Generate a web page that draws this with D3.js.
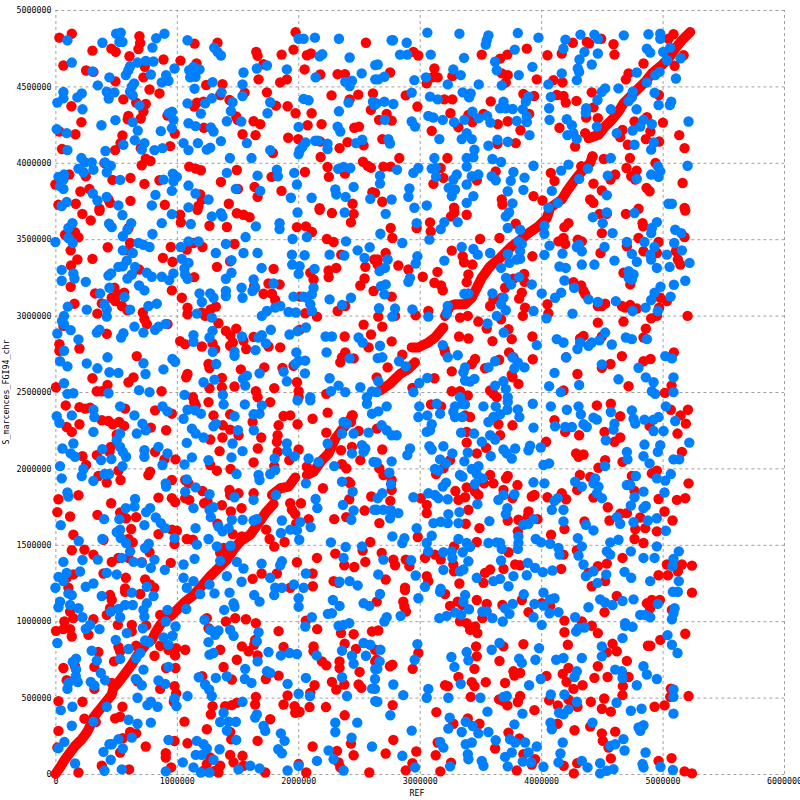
<!DOCTYPE html>
<html><head><meta charset="utf-8"><script src="https://cdn.jsdelivr.net/npm/d3@7"></script>
<style>html,body{margin:0;background:#fff}svg{display:block}text{font-family:"DejaVu Sans Mono",monospace;font-size:8.3px;fill:#000}</style></head><body><div id="c"></div>
<script>
const xTicks=[0,1000000,2000000,3000000,4000000,5000000,6000000];
const yTicks=[0,500000,1000000,1500000,2000000,2500000,3000000,3500000,4000000,4500000,5000000];
// values below are [REF kb, query kb]
const bandRuns=[
[[0,0],[38,43],[80,97],[121,141],[162,184],[217,227],[258,271],[286,314],[313,369],[354,412],[409,466],[464,520],[478,564],[505,586],[547,629],[588,672],[629,716],[670,770],[711,813],[753,857],[794,878],[821,922],[863,976],[904,1009],[959,1041],[1014,1085],[1069,1128],[1137,1171],[1192,1219],[1275,1295],[1330,1338],[1412,1403],[1467,1468],[1522,1523],[1604,1566],[1673,1642],[1728,1707],[1797,1768]],
[[1783,1826],[1851,1870],[1920,1881],[1975,1941]],
[[2071,1957],[2126,1978],[2195,2054],[2250,2098],[2305,2195],[2346,2239],[2401,2293],[2450,2347]],
[[2673,2510],[2755,2553],[2838,2618],[2907,2651],[2962,2694]],
[[2934,2792],[2989,2792],[3071,2824],[3126,2857],[3195,2922]],
[[3209,2998],[3250,3063],[3291,3074],[3374,3074],[3429,3117],[3470,3182],[3511,3247],[3580,3323],[3662,3378],[3758,3454],[3813,3486],[3896,3540],[3978,3584],[4047,3638],[4074,3706],[4170,3760],[4211,3814],[4280,3890],[4335,3944],[4404,3999],[4423,4042]],
[[4390,4161],[4472,4183],[4527,4237],[4582,4281],[4637,4335],[4678,4389],[4747,4444],[4802,4487],[4857,4530],[4912,4585],[4994,4639],[5049,4682],[5104,4747],[5159,4802],[5228,4856]]];
const redUpperLeft=[[33,4819],[135,4845],[305,4734],[461,4747],[497,4726],[692,4828],[698,4784],[684,4745],[610,4697],[66,4637],[253,4604],[313,4595],[736,4628],[890,4676],[1030,4669],[1162,4650],[725,4559],[494,4533],[775,4480],[857,4454],[560,4415],[665,4394],[744,4385],[725,4335],[601,4307],[703,4290],[596,4285],[132,4370],[214,4266],[923,4309],[983,4192],[33,4205],[165,4187],[552,4179],[536,4129],[492,4083],[55,4090],[703,4096],[945,4109],[711,3984],[744,4027],[783,4012],[404,3999],[1102,3975],[1156,3962],[1198,3951],[115,3923],[250,3912],[470,3888],[618,3901],[733,3862],[857,3886],[0,3858],[206,3812],[280,3829],[450,3738],[437,3760],[618,3751],[901,3725],[25,3725],[168,3732],[363,3700],[1192,3793],[1206,3760],[1178,3717],[1146,4780],[1335,4786],[1654,4726],[1665,4700],[1978,4854],[1863,4708],[1961,4741],[2071,4704],[2104,4715],[1714,4645],[2052,4611],[2181,4578],[2324,4580],[2384,4580],[1673,4546],[1851,4526],[1906,4546],[2557,4786],[1242,4509],[1376,4515],[1558,4459],[1357,4444],[1742,4461],[1143,4368],[1165,4394],[1220,4400],[1434,4411],[1489,4303],[1500,4281],[1632,4272],[1687,4253],[1222,4229],[1541,4187],[1648,4181],[1816,4374],[1912,4370],[1978,4324],[2110,4324],[2077,4246],[2192,4253],[1917,4164],[2000,4155],[2274,4441],[2423,4415],[2494,4446],[2615,4454],[2598,4346],[2461,4229],[2500,4237],[2406,4135],[2340,4096],[2538,4114],[2181,4139],[2184,4038],[1791,4064],[2241,3973],[2533,4007],[2571,3981],[2598,3968],[2384,3929],[2252,3908],[2055,3940],[1780,3908],[1494,3953],[1363,3875],[1503,3829],[1640,3842],[1862,3816],[1665,3777],[1428,3732],[2447,3732],[2610,3808],[2176,3703]];
const blueUpperLeft=[[99,4802],[387,4786],[500,4845],[538,4851],[527,4791],[552,4791],[830,4815],[898,4845],[799,4754],[135,4656],[305,4598],[676,4656],[744,4667],[807,4663],[615,4632],[601,4606],[580,4574],[445,4559],[786,4578],[981,4617],[912,4574],[876,4526],[931,4537],[349,4507],[648,4520],[629,4498],[423,4465],[486,4461],[439,4420],[615,4465],[637,4441],[66,4463],[66,4422],[16,4394],[217,4454],[181,4428],[223,4350],[692,4376],[379,4246],[494,4279],[637,4266],[678,4211],[11,4220],[93,4194],[868,4207],[961,4335],[934,4324],[972,4281],[959,4227],[654,4148],[733,4129],[560,4118],[711,4086],[412,4077],[99,4083],[816,4083],[882,4096],[214,4031],[244,4003],[299,4003],[313,3955],[409,4003],[456,3981],[423,3938],[190,3962],[231,3938],[25,3908],[71,3923],[66,3890],[38,3847],[66,3829],[533,3888],[890,3890],[967,3929],[1000,3908],[972,3879],[824,3790],[959,3816],[308,3799],[346,3753],[423,3777],[519,3721],[93,3743],[52,3717],[794,3721],[1088,4802],[1308,4754],[1335,4726],[1363,4702],[1102,4606],[1137,4628],[1187,4611],[1110,4559],[1154,4563],[1146,4485],[1294,4528],[1549,4591],[1659,4617],[1742,4637],[1541,4513],[1541,4437],[1368,4461],[1288,4422],[1233,4389],[1088,4389],[1459,4396],[1445,4339],[1198,4322],[1412,4272],[1530,4270],[1096,4259],[1154,4240],[1280,4231],[1302,4205],[1055,4129],[1173,4129],[1363,4142],[1096,4083],[1247,4086],[1275,4099],[1577,4129],[1437,4031],[1615,4031],[1769,4083],[1747,4324],[1769,4396],[1906,4611],[2003,4812],[2044,4812],[2137,4819],[2335,4812],[2423,4689],[2176,4697],[2198,4710],[2143,4559],[2522,4585],[2387,4530],[2442,4537],[2423,4502],[2634,4639],[2634,4546],[2044,4418],[2085,4409],[2335,4337],[2414,4394],[2615,4400],[2626,4378],[2003,4235],[2324,4237],[2346,4205],[2060,4133],[2033,4103],[2011,4081],[2003,4057],[2140,4144],[2162,4144],[2241,4125],[2241,4090],[2475,4129],[2527,4151],[1824,3955],[1832,3912],[1665,3916],[1412,3934],[1967,3934],[2329,3960],[2373,3973],[2428,3966],[1096,3851],[1989,3858],[1154,3799],[1486,3829],[1687,3816],[1939,3771],[2110,3771],[2305,3825],[2313,3793],[2390,3777],[2456,3842],[2593,3764],[1261,3760],[1096,3708]];
const redUpperRight=[[2948,4726],[2989,4702],[2756,4591],[3121,4617],[3104,4559],[3148,4559],[3058,4520],[3269,4567],[3511,4708],[3662,4682],[3722,4708],[3882,4747],[3676,4585],[3725,4574],[3709,4526],[3964,4546],[4052,4704],[4170,4715],[4261,4786],[4376,4791],[4395,4780],[4494,4812],[4596,4776],[4604,4708],[4102,4541],[4176,4526],[4720,4585],[4698,4546],[4843,4650],[5049,4812],[5090,4841],[4129,4444],[4184,4437],[4203,4394],[4291,4405],[4417,4461],[4431,4363],[4371,4296],[4467,4292],[4151,4229],[2885,4441],[3203,4415],[3269,4415],[3585,4402],[2981,4368],[3854,4450],[3942,4437],[3901,4320],[3253,4324],[3401,4313],[3525,4320],[2665,4281],[2728,4320],[2769,4276],[3099,4209],[3319,4233],[3434,4266],[3643,4253],[3725,4272],[3830,4213],[2692,4155],[3640,4125],[3791,4129],[2832,4031],[3228,4031],[2701,3975],[2761,3975],[3173,3966],[3195,3901],[3113,3862],[3470,3886],[3626,3944],[4080,3934],[4110,3881],[3937,3782],[3676,3760],[3681,3727],[3283,3706],[4011,3753],[2632,3803],[2692,3745],[4431,3864],[4500,3819],[4404,3760],[4431,3738],[4330,3977],[4423,4042],[4516,4025],[4731,4031],[4703,3966],[4610,3923],[4571,3890],[4742,3912],[4786,3949],[4775,3890],[4868,3836],[4893,3814],[4942,3999],[5165,3868],[4802,3699],[5181,3705],[4714,4118],[4651,4168],[4670,4215],[4769,4270],[4871,4298],[4900,4205],[4862,4155],[4972,4139],[5003,4263],[4970,4444],[5137,4181],[5181,4096],[5099,4635],[5173,4704],[4280,4107],[4363,4194]];
const blueUpperRight=[[3063,4852],[3327,4845],[2769,4802],[2780,4802],[2893,4786],[2838,4708],[2898,4708],[3091,4708],[3365,4687],[3566,4834],[3552,4802],[3544,4773],[3808,4849],[3978,4819],[2654,4643],[3277,4611],[3338,4574],[3052,4559],[2956,4541],[2709,4563],[2659,4546],[3231,4513],[3486,4513],[3621,4661],[3635,4606],[3816,4574],[3676,4507],[3928,4628],[3783,4741],[4200,4806],[4184,4747],[4324,4839],[4439,4839],[4467,4812],[4681,4834],[4884,4841],[4981,4845],[4981,4812],[4357,4726],[4467,4715],[4316,4676],[4417,4643],[4302,4617],[4313,4595],[4170,4585],[4294,4541],[4060,4513],[4871,4747],[4898,4721],[5005,4726],[5063,4754],[5038,4671],[5148,4684],[4788,4591],[4939,4574],[4975,4595],[5110,4552],[4871,4526],[4527,4487],[4500,4465],[4637,4487],[4464,4411],[4755,4465],[4747,4428],[4720,4404],[4934,4458],[4967,4378],[5071,4400],[5060,4378],[5214,4270],[4786,4350],[4574,4350],[4371,4357],[4368,4328],[4080,4431],[4066,4357],[4069,4281],[4459,4237],[4211,4285],[4253,4246],[4217,4181],[4266,4194],[4294,4155],[4623,4194],[4753,4211],[4816,4237],[4843,4281],[4912,4253],[4769,4118],[4928,4133],[4906,4086],[3896,4433],[3874,4400],[3690,4400],[3662,4357],[3709,4357],[3766,4352],[3849,4350],[3882,4303],[3882,4266],[3799,4274],[3904,4181],[3434,4335],[3486,4292],[3555,4307],[3582,4263],[3368,4281],[3283,4266],[3190,4281],[3071,4307],[3113,4296],[3420,4454],[3407,4428],[3354,4461],[3085,4433],[3148,4415],[2709,4400],[2783,4385],[2646,4389],[2714,4281],[2934,4459],[2934,4270],[2962,4237],[2742,4155],[2755,4126],[3162,4155],[3387,4194],[3346,4155],[3429,4155],[3566,4112],[3640,4151],[3725,4138],[3451,4086],[3387,4031],[3442,4036],[3121,4031],[3599,4025],[3670,4005],[3387,3975],[3132,3966],[3099,3962],[2989,3966],[2948,3934],[2813,3955],[3937,3981],[4225,3988],[4165,3949],[4385,3962],[4313,3895],[3772,3940],[3863,3903],[3750,3882],[3593,3912],[3626,3886],[3305,3923],[3277,3890],[3387,3858],[3429,3912],[3483,3923],[3135,3908],[2673,3916],[2673,3864],[2915,3832],[2907,3778],[3239,3836],[3291,3825],[3264,3782],[3387,3738],[3442,3782],[3725,3814],[3854,3823],[3764,3734],[4088,3816],[4137,3738],[4060,3706],[3058,3721],[2956,3706],[2769,3760],[4549,3916],[4788,3895],[4574,4031],[4961,3977],[4981,3944],[4967,3908],[4906,3923],[5206,3981],[4541,3788],[5049,3732],[5077,3732]];
const redMidUpperLeft=[[222,3666],[291,3623],[363,3686],[80,3529],[162,3545],[190,3512],[126,3427],[181,3367],[129,3328],[305,3371],[431,3447],[615,3475],[602,3573],[593,3427],[126,3189],[327,3145],[486,3182],[464,3117],[519,3139],[566,3150],[492,3095],[547,3063],[382,3080],[346,3013],[593,3035],[157,3078],[720,3020],[733,2976],[753,2944],[959,3165],[950,3449],[885,3378],[964,3352],[689,3302],[66,2933],[423,2881],[923,2944],[33,2813],[33,2770],[198,2785],[670,2735],[602,2564],[643,2596],[305,2590],[429,2546],[341,2505],[382,2505],[874,2505],[5,2531],[1027,3660],[1033,3610],[1170,3692],[1269,3588],[1412,3580],[1494,3670],[1549,3660],[1599,3644],[1989,3579],[2063,3584],[2112,3547],[2176,3692],[2277,3671],[2456,3666],[2434,3610],[2236,3501],[2291,3482],[1475,3469],[1211,3449],[1082,3432],[1137,3475],[1143,3252],[1439,3356],[1330,3319],[1797,3306],[2099,3280],[2126,3236],[2250,3295],[2250,3252],[2313,3312],[2354,3399],[2552,3319],[2546,3243],[2511,3197],[2626,3367],[2620,3161],[1041,3117],[1088,3052],[1088,3009],[1206,3020],[1233,2998],[1277,3041],[1321,3059],[1637,3193],[1755,3210],[1846,3204],[1714,3143],[1783,3143],[1810,3102],[1824,3063],[2016,3124],[2057,3015],[2154,2993],[2324,3030],[2387,3063],[1343,2950],[1404,2900],[1440,2872],[1489,2915],[1461,2824],[1439,2803],[1549,2835],[1571,2781],[1632,2861],[1755,2798],[1851,2792],[2011,2907],[2538,2941],[2382,2863],[2599,2876],[2579,2792],[1027,2833],[1068,2813],[1206,2798],[1294,2818],[1316,2781],[1261,2683],[1269,2657],[1088,2618],[1077,2596],[1371,2592],[1371,2531],[1475,2536],[1269,2525],[1527,2648],[1720,2661],[1870,2657],[1132,2466],[1651,2505],[1665,2466],[1802,2525],[1989,2564],[2003,2505],[2003,2466],[1961,2672],[2360,2727],[2346,2694],[2387,2759],[2456,2720],[2231,2488]];
const blueMidUpperLeft=[[552,3658],[442,3601],[464,3579],[624,3605],[593,3562],[555,3519],[140,3605],[107,3573],[107,3508],[143,3475],[0,3482],[876,3605],[959,3664],[799,3534],[684,3475],[725,3464],[775,3449],[555,3427],[637,3410],[588,3360],[519,3319],[555,3323],[656,3319],[459,3276],[437,3262],[629,3269],[593,3243],[52,3299],[52,3228],[148,3276],[157,3243],[250,3221],[753,3280],[794,3254],[876,3254],[937,3232],[972,3276],[689,3197],[733,3165],[445,3182],[368,3145],[569,3122],[102,3059],[258,3039],[404,3074],[423,3041],[423,2993],[615,3039],[766,3063],[835,3078],[71,2998],[55,2965],[71,2944],[16,2883],[126,2905],[190,2844],[363,2907],[341,2889],[560,2885],[541,2857],[651,2928],[725,2889],[821,2907],[849,2928],[909,2946],[71,2770],[429,2727],[38,2701],[99,2668],[258,2687],[346,2655],[445,2629],[519,2625],[725,2688],[742,2618],[890,2648],[964,2716],[986,2698],[71,2557],[99,2488],[148,2492],[437,2492],[689,2512],[775,2499],[1115,3599],[1096,3486],[1178,3486],[1033,3449],[1404,3469],[1321,3410],[1549,3410],[1665,3410],[1566,3514],[1288,3649],[1363,3670],[1376,3649],[1651,3584],[1846,3605],[1846,3566],[1994,3675],[2071,3514],[1953,3501],[2382,3675],[2393,3486],[2588,3447],[1948,3399],[2052,3395],[2258,3399],[2379,3393],[2489,3427],[2546,3378],[1041,3371],[1096,3345],[1063,3308],[1068,3269],[1088,3241],[1450,3362],[1450,3280],[1404,3241],[1698,3312],[1632,3237],[1950,3334],[2011,3323],[2003,3273],[2134,3306],[1797,3210],[1645,3182],[1623,3161],[1533,3182],[1541,3117],[1187,3145],[1206,3089],[1275,3145],[1302,3117],[1404,3161],[1404,3128],[2126,3182],[2112,3139],[2071,3117],[2099,3074],[2044,3124],[2258,3106],[2434,3117],[2360,3069],[1961,3124],[1852,3063],[1810,3052],[1742,3030],[1700,2998],[1920,3024],[1980,3020],[2112,3030],[1165,3013],[1288,2987],[1774,2907],[1700,2872],[1673,2857],[1536,2863],[1734,2818],[1648,2774],[2063,2922],[1994,2898],[1928,2876],[2225,2863],[2277,2863],[2497,2857],[2530,2824],[2233,2759],[1137,2872],[1137,2829],[1294,2900],[1269,2857],[1296,2763],[1475,2763],[1475,2737],[1984,2759],[2003,2705],[2057,2705],[1975,2683],[1879,2633],[2055,2622],[1324,2683],[2258,2590],[2423,2720],[1577,2607],[1544,2586],[1563,2542],[1681,2622],[1220,2564],[1310,2581],[1906,2570],[2332,2542],[2387,2499],[2269,2505],[2511,2531],[1063,2481],[1379,2481],[2607,2503],[2099,2466],[2565,2466]];
const redMidUpperRight=[[3258,3649],[3285,3675],[3387,3660],[2761,3573],[2775,3508],[3085,3610],[3091,3551],[2975,3573],[3791,3601],[4225,3605],[4192,3579],[4184,3508],[4143,3486],[4198,3469],[4302,3497],[4335,3486],[4500,3540],[4489,3410],[4698,3666],[4835,3605],[4840,3584],[4802,3508],[4706,3454],[4843,3421],[4967,3482],[4953,3410],[4481,3666],[4541,3666],[5187,3688],[5181,3514],[5110,3421],[5126,3367],[5146,3334],[3497,3501],[3657,3508],[3264,3425],[3354,3388],[3365,3349],[3434,3334],[3928,3388],[2720,3410],[2654,3367],[2654,3334],[2824,3328],[2907,3302],[3146,3286],[3025,3254],[3121,3215],[3176,3197],[3190,3165],[3401,3269],[3387,3219],[3703,3182],[3772,3241],[3860,3273],[3863,3221],[3841,3150],[3819,3111],[3676,3117],[3607,3106],[3580,3063],[2769,3124],[3868,3052],[3849,2998],[3071,3030],[2967,3002],[2659,2993],[2797,2998],[3332,2987],[3396,2998],[3483,2961],[3670,2976],[4052,3074],[4060,3015],[2692,2928],[3552,2915],[3731,2911],[3758,2846],[3324,2863],[3401,2850],[3599,2833],[3928,2863],[3736,2759],[3772,2727],[3931,2714],[3654,2711],[3456,2716],[3429,2683],[3538,2655],[3264,2635],[3758,2614],[3764,2596],[3813,2553],[3121,2590],[3264,2505],[3332,2505],[3396,2477],[3580,2510],[3607,2488],[3634,2466],[2769,2831],[2857,2744],[2736,2661],[2646,2596],[2940,2527],[3203,2781],[3209,2759],[4266,3219],[4330,3197],[4349,3161],[4363,3139],[4500,3063],[4467,3063],[4527,3078],[4665,3063],[4692,3052],[4734,3069],[4788,3046],[4734,3204],[4678,3280],[4981,3117],[5036,3095],[4972,3052],[4906,2982],[4953,2998],[5206,2998],[4467,2954],[4678,2961],[4862,2915],[4843,2857],[4349,2867],[4321,2850],[4500,2863],[4665,2735],[5093,2759],[4901,2716],[4843,2701],[4571,2683],[4500,2659],[4299,2618],[4206,2727],[5074,2542],[4720,2538],[5019,2494],[4184,2510]];
const blueMidUpperRight=[[2720,3666],[3709,3649],[3736,3675],[2975,3605],[3203,3612],[3173,3566],[3313,3612],[2676,3536],[2857,3475],[3080,3497],[3725,3573],[3827,3562],[4027,3588],[4027,3536],[4426,3644],[4507,3605],[4541,3675],[4588,3540],[4769,3671],[4953,3612],[4912,3573],[4906,3540],[5104,3562],[5154,3540],[4706,3482],[4851,3482],[4934,3449],[4898,3399],[4906,3367],[4953,3312],[5096,3475],[5159,3427],[5036,3399],[4747,3404],[4788,3352],[5058,3319],[5222,3345],[4522,3449],[4313,3464],[4335,3421],[4294,3449],[4069,3458],[4027,3397],[4176,3406],[4335,3334],[4439,3334],[4604,3360],[4151,3321],[4203,3312],[4720,3291],[4761,3269],[4747,3236],[4720,3247],[4192,3230],[4272,3182],[4165,3150],[4115,3117],[4390,3106],[4467,3089],[4615,3095],[4753,3030],[4860,3052],[4906,3102],[4934,3150],[4983,3189],[5066,3124],[5093,3202],[5187,3228],[4961,3030],[4258,3013],[4044,2982],[4005,3145],[3937,3030],[3923,3204],[3813,3486],[3841,3469],[3827,3421],[3827,3371],[3799,3367],[3725,3404],[3739,3345],[3670,3312],[3580,3410],[3442,3436],[3478,3399],[3346,3449],[3203,3360],[2981,3388],[2967,3341],[2736,3367],[2714,3312],[2670,3291],[2920,3247],[2907,3221],[2681,3193],[2720,3204],[2709,3139],[2665,3048],[2797,3046],[2775,2993],[2940,3041],[3071,2993],[3231,3063],[3223,3013],[3368,3143],[3401,3145],[3599,3145],[3711,3247],[3753,3204],[3819,3252],[3690,3117],[3670,3074],[3709,3035],[3635,2998],[3558,2948],[3692,2889],[3964,2807],[4129,2846],[4184,2824],[4206,2727],[4390,2803],[4417,2824],[4481,2839],[4527,2889],[4321,2824],[4299,2781],[4698,2857],[4747,2846],[4582,2811],[4871,2846],[5022,2735],[5077,2720],[4500,2681],[4802,2659],[4862,2596],[4926,2564],[5090,2596],[4637,2583],[4110,2625],[4066,2538],[4313,2546],[4162,2499],[4912,2505],[4939,2488],[5090,2499],[3190,2807],[3231,2727],[3313,2741],[3764,2727],[3621,2701],[3566,2661],[3808,2694],[3863,2661],[3780,2655],[3374,2661],[3360,2629],[3374,2575],[3415,2568],[3451,2586],[3621,2542],[3690,2570],[3709,2520],[3725,2466],[2997,2559],[3063,2592],[2948,2499],[2673,2803],[2692,2727],[2654,2722],[2830,2701],[2885,2668],[2659,2570],[2646,2499],[3332,2466]];
const redMidLowerLeft=[[85,2412],[198,2401],[245,2391],[286,2397],[574,2391],[821,2380],[959,2358],[382,2315],[437,2310],[472,2289],[525,2304],[566,2278],[198,2289],[93,2271],[135,2239],[786,2267],[912,2250],[505,2221],[456,2141],[445,2108],[341,2087],[223,2080],[253,2022],[821,2108],[898,2059],[989,2059],[354,1950],[519,1985],[423,1907],[536,1924],[780,1978],[766,1957],[959,1924],[190,1824],[25,1798],[849,1809],[959,1805],[986,1779],[459,1772],[16,1714],[121,1685],[346,1696],[533,1711],[582,1674],[665,1681],[624,1603],[148,1566],[849,1570],[959,1599],[1000,1592],[981,1505],[602,1538],[637,1516],[396,1533],[135,1464],[239,1468],[313,1436],[775,1451],[464,1388],[519,1414],[602,1414],[711,1386],[950,1382],[396,1312],[580,1284],[739,1273],[780,1240],[813,1219],[148,1306],[93,1284],[107,1219],[574,1214],[1143,2434],[1261,2434],[1156,2412],[1302,2347],[1439,2354],[1624,2304],[1769,2434],[1879,2343],[1934,2347],[1994,2289],[1838,2282],[2118,2325],[2242,2365],[1379,2282],[1439,2254],[1376,2202],[1275,2189],[1508,2217],[1695,2202],[1830,2217],[1824,2174],[1667,2130],[1352,2113],[1830,2108],[2003,2124],[1632,2039],[1926,2054],[1802,2015],[1275,2022],[1330,1985],[1442,1996],[2231,2234],[2442,2347],[2434,2304],[2497,2245],[2352,2119],[2442,2141],[2511,2054],[2360,2028],[2396,2000],[2648,2260],[1069,1924],[1096,1902],[1211,1852],[1069,1805],[1102,1794],[1225,1772],[1253,1783],[1434,1859],[1439,1826],[1508,1837],[1632,1837],[1371,1759],[1533,1740],[1445,1718],[1335,1638],[2203,1870],[2415,1913],[2428,1902],[2420,1798],[2601,1816],[2546,1724],[2296,1668],[2395,1681],[2085,1668],[2022,1772],[1934,1772],[1948,1729],[1975,1701],[1983,1638],[1736,1599],[1764,1538],[1802,1488],[1887,1518],[1461,1570],[1536,1555],[1082,1538],[1132,1533],[1989,1386],[2154,1414],[2305,1442],[2593,1518],[2530,1462],[2552,1388],[2379,1366],[2461,1355],[1624,1277],[1698,1312],[1824,1312],[2118,1312],[2291,1262],[2332,1251],[2120,1229],[1934,1219],[1357,1447],[1385,1479],[2071,2011]];
const blueMidLowerLeft=[[11,2341],[33,2299],[135,2347],[313,2384],[321,2336],[533,2406],[651,2347],[882,2406],[923,2373],[717,2293],[744,2250],[670,2228],[313,2239],[533,2228],[505,2184],[533,2141],[555,2108],[582,2076],[148,2163],[58,2130],[126,2098],[162,2076],[387,2126],[376,2054],[461,2061],[38,2015],[231,1996],[217,1950],[52,1935],[313,1918],[404,1963],[442,1963],[552,2015],[733,2119],[733,2076],[849,2141],[923,2098],[882,2022],[909,1902],[912,1881],[99,1842],[107,1816],[656,1800],[651,1750],[580,1740],[780,1740],[747,1714],[527,1668],[401,1668],[827,1679],[868,1642],[904,1609],[733,1629],[44,1629],[533,1599],[505,1583],[538,1544],[582,1512],[192,1525],[387,1538],[769,1507],[739,1479],[615,1457],[981,1544],[547,1414],[643,1388],[711,1382],[349,1403],[223,1401],[66,1388],[816,1403],[786,1349],[901,1336],[423,1316],[505,1306],[203,1325],[93,1316],[25,1290],[66,1262],[313,1247],[250,1225],[0,1219],[753,1225],[1088,2384],[1151,2380],[1198,2358],[1055,2325],[1124,2260],[1156,2228],[1220,2202],[1302,2276],[1321,2293],[1385,2419],[1560,2419],[1700,2412],[1681,2358],[1632,2354],[1475,2341],[1634,2250],[1503,2250],[1459,2163],[1541,2113],[1450,2072],[1261,2054],[1124,2072],[1063,2026],[1082,2167],[1906,2163],[1906,2113],[1970,2080],[1805,2065],[1810,1989],[1769,1963],[1673,1957],[1681,1924],[1492,1963],[2085,2065],[2167,2043],[2296,2015],[2063,1902],[2360,1913],[2242,2163],[2360,2228],[2401,2293],[2373,2304],[2456,2228],[2579,2234],[2525,2152],[2552,2130],[2538,2108],[2442,2098],[2620,2043],[2566,2423],[2607,2358],[1994,2445],[2099,2445],[1082,1928],[1154,1876],[1069,1848],[1269,1831],[1475,1811],[1632,1794],[1816,1826],[1137,1740],[1302,1746],[1269,1729],[1280,1681],[2143,1800],[2157,1740],[2368,1761],[2448,1848],[2456,1724],[2437,1664],[2626,1729],[1865,1659],[1857,1577],[2016,1648],[1934,1599],[1989,1594],[2102,1616],[2008,1533],[1659,1668],[1632,1659],[1541,1664],[1453,1664],[1426,1609],[1343,1620],[1376,1588],[1154,1609],[1261,1538],[1165,1501],[1330,1490],[1442,1494],[2269,1516],[2390,1486],[2525,1490],[2373,1414],[1357,1395],[1146,1408],[1055,1371],[1494,1388],[1549,1345],[1698,1377],[1865,1392],[1851,1366],[1412,1295],[1533,1258],[1769,1284],[2063,1312],[2340,1258],[2423,1262],[2489,1234],[1055,1284],[1137,1262],[1082,1219],[1269,1240],[1810,1219],[1865,1219],[1964,1240],[2044,1219]];
const redMidLowerRight=[[3093,2419],[3176,2406],[3374,2347],[3415,2336],[3648,2289],[3764,2282],[2692,2124],[3387,2239],[3387,2169],[3662,2217],[3547,2135],[3470,2098],[3250,2054],[3195,2000],[3135,1963],[3580,1957],[3607,1902],[3725,1950],[3711,1935],[3530,1902],[3456,1848],[3483,1826],[3294,1852],[3387,1876],[3374,1811],[3319,1794],[3690,1859],[3805,1891],[3764,1805],[3945,1826],[3923,1816],[2668,2000],[2701,1957],[2769,1924],[2769,1859],[2758,1787],[3008,1805],[3058,1761],[3058,1707],[3401,1729],[2668,1642],[3896,1718],[3890,1685],[3813,1664],[3725,1659],[3492,1609],[3379,1638],[3970,1668],[2984,1551],[3808,1588],[3470,1518],[3283,1490],[3071,1451],[3126,1436],[3173,1403],[3044,1414],[2687,1447],[2783,1403],[2797,1366],[2885,1403],[2915,1360],[2720,1273],[3058,1295],[3071,1262],[2879,1219],[3277,1371],[3283,1327],[3327,1247],[3580,1338],[3538,1316],[3525,1251],[3690,1342],[3731,1451],[3786,1371],[3827,1366],[4165,1342],[4082,1566],[4041,2174],[4288,2098],[4349,2091],[4308,2076],[4472,2004],[4527,2054],[4670,2043],[4953,1985],[4912,1967],[4319,1957],[4404,1944],[4297,1859],[4431,1809],[4052,1811],[4170,1837],[4206,1798],[4967,1800],[5118,1794],[5187,1805],[5214,1902],[4747,1951],[4769,1853],[4549,1746],[4651,1703],[4706,1707],[4563,1659],[4816,1679],[5016,1718],[5082,1659],[4857,1609],[4775,1603],[4953,1588],[4769,1538],[4843,1512],[4357,1653],[4192,1603],[4459,2412],[4574,2423],[4651,2341],[4110,2315],[4198,2239],[4313,2217],[4522,2239],[4604,2174],[4651,2202],[4893,2278],[5148,2347],[5192,2293],[5123,2228],[5209,2384],[5068,2384],[5159,2108],[4294,1464],[5036,1371],[5159,1371],[5242,1364],[4967,1301],[5044,1301],[5126,1327],[4184,1436],[4467,1360],[4541,1377],[4670,1414],[4390,1316],[4527,1262],[4417,1229]];
const blueMidLowerRight=[[2728,2406],[2659,2373],[2687,2282],[2728,2250],[2769,2217],[2810,2217],[2997,2406],[2989,2336],[3063,2347],[3140,2423],[3168,2358],[3099,2289],[3085,2250],[3058,2239],[3291,2406],[3277,2369],[3351,2423],[3373,2419],[3291,2336],[3351,2336],[3525,2406],[3626,2406],[3725,2434],[3808,2386],[3821,2336],[3722,2384],[3566,2304],[3607,2336],[3662,2354],[3931,2423],[3937,2267],[3341,2234],[3448,2228],[3580,2217],[3621,2189],[3511,2174],[3080,2145],[3099,2124],[3195,2145],[3269,2098],[2920,2130],[2898,2087],[3168,2059],[3217,2033],[2769,2046],[2646,2039],[3126,1996],[3154,1985],[3368,2046],[3396,2104],[3585,2080],[3690,2124],[3717,2098],[3758,2065],[3786,2130],[3909,2148],[3896,2119],[3997,2137],[3484,2015],[3429,1996],[3470,1963],[3516,1935],[3332,1957],[3352,1946],[2750,1972],[2764,1896],[3217,1907],[3190,1881],[3456,1898],[3071,1837],[3126,1826],[3154,1805],[3231,1798],[2948,1811],[2692,1837],[2654,1805],[3475,1766],[3690,1826],[3648,1794],[3780,1831],[2646,1729],[2701,1729],[2761,1729],[2824,1707],[2756,1674],[3236,1701],[3327,1714],[3113,1642],[3173,1651],[3231,1642],[3319,1642],[3722,1740],[3709,1701],[3574,1655],[3937,1668],[3854,1631],[3896,1638],[2975,1609],[2775,1555],[2874,1544],[2857,1512],[3099,1559],[3058,1512],[3071,1457],[3319,1538],[3387,1512],[3415,1486],[3195,1451],[3264,1457],[3269,1414],[3354,1451],[3566,1512],[3634,1516],[3662,1512],[3676,1473],[3813,1555],[3813,1512],[3808,1473],[2701,1403],[2929,1399],[3401,1392],[3360,1338],[3332,1327],[3195,1336],[2967,1299],[2659,1306],[3044,1225],[3173,1212],[3470,1284],[3670,1397],[3607,1262],[3662,1277],[3731,1229],[3772,1295],[3882,1301],[3890,1382],[3950,1349],[4014,1321],[4093,1332],[3956,1538],[4000,1516],[4074,1507],[4143,1479],[4151,1436],[4184,1653],[4302,1544],[4335,1490],[4308,1429],[4349,1371],[4431,1327],[4368,1295],[4541,1457],[4569,1436],[4536,1306],[4464,1251],[4637,1533],[4569,1516],[4739,1457],[4843,1414],[4934,1414],[4953,1490],[5134,1457],[5090,1408],[5082,1360],[4687,1323],[4742,1284],[4898,1262],[5134,1262],[5027,1592],[4953,1674],[4879,1659],[4761,1648],[4624,1681],[4651,1638],[4431,1594],[4368,1631],[4184,1729],[4088,1729],[4137,1805],[4110,1787],[4027,1902],[3937,1909],[4019,2022],[4066,2033],[4212,2384],[4080,2406],[4308,2406],[4327,2354],[4115,2276],[4198,2271],[4253,2271],[4349,2289],[4376,2271],[4431,2332],[4459,2319],[4574,2369],[4604,2293],[4596,2254],[4533,2184],[4747,2380],[4761,2325],[4775,2293],[4851,2319],[4926,2319],[4967,2336],[4926,2245],[5008,2245],[5027,2406],[5104,2310],[5220,2169],[4851,2156],[4981,2152],[4961,2108],[4706,2108],[4711,2059],[4843,2080],[4893,2033],[5090,2059],[5137,2059],[4527,2015],[5068,1963],[4953,1935],[5022,1920],[4780,1950],[4734,1891],[4706,1891],[4843,1848],[4769,1811],[5016,1842],[4445,1935],[4472,1881],[4459,1837],[4500,1805],[4431,1902],[4280,1913],[4335,1881],[4862,1755],[4843,1740],[4739,1757]];
const redLowerLeft=[[450,1171],[464,1139],[574,1193],[698,1178],[423,1041],[450,1085],[121,1063],[148,1020],[313,1013],[74,998],[5,937],[66,948],[121,948],[135,900],[272,911],[514,976],[629,976],[629,933],[747,972],[863,1041],[519,831],[533,803],[354,798],[483,737],[665,839],[863,839],[931,813],[994,824],[1069,813],[986,776],[816,774],[66,694],[162,705],[321,701],[912,694],[989,694],[93,614],[321,557],[464,596],[676,607],[863,557],[981,575],[994,527],[25,477],[223,473],[552,440],[975,473],[239,362],[332,340],[492,364],[533,375],[25,282],[555,234],[615,275],[665,266],[744,180],[16,173],[190,10],[382,54],[533,141],[607,30],[909,136],[909,108],[953,43],[981,216],[1088,201],[1063,343],[1247,293],[1209,640],[1385,700],[1494,748],[1453,618],[1357,813],[1404,998],[1481,1020],[1569,1013],[1651,987],[1247,1020],[1261,954],[1536,835],[1591,803],[1645,878],[1637,846],[1665,776],[1838,935],[1879,831],[2063,1004],[2156,948],[2352,922],[2456,915],[2382,852],[2475,818],[2607,933],[2126,835],[2126,803],[2195,737],[2231,711],[2340,737],[2340,694],[2505,668],[2277,603],[2313,553],[2379,586],[2134,581],[2497,586],[2519,564],[2634,737],[1838,644],[1733,622],[1651,505],[1645,455],[1912,514],[1879,455],[1970,444],[1975,401],[2011,407],[2093,438],[2228,438],[2099,531],[2382,384],[1769,358],[1398,444],[1453,451],[1494,466],[1294,444],[1280,390],[1439,275],[1448,227],[1665,217],[2118,180],[2434,199],[2456,123],[2319,151],[2332,76],[2346,43],[2585,10],[2066,10],[2003,65],[1728,10],[1247,65],[1275,108],[1220,21],[1357,54],[1343,10],[1439,125],[1467,76],[1541,119],[1549,54],[1316,21]];
const blueLowerLeft=[[38,1128],[25,1091],[107,1182],[135,1171],[121,1106],[190,1085],[223,1026],[382,1165],[629,1187],[808,1165],[753,1117],[725,1074],[733,1030],[456,1063],[519,1080],[574,1106],[637,1106],[533,1026],[286,976],[250,950],[363,948],[588,922],[720,954],[923,1074],[909,998],[989,965],[890,894],[964,905],[1077,1080],[1192,1178],[1310,1182],[1434,1187],[16,857],[497,878],[299,807],[602,818],[739,874],[772,863],[931,846],[698,792],[665,759],[533,753],[341,742],[170,755],[143,733],[170,683],[168,640],[184,601],[107,596],[99,557],[374,661],[409,614],[291,603],[321,579],[725,683],[662,622],[711,581],[849,612],[904,590],[931,701],[676,499],[758,451],[786,473],[841,440],[981,494],[997,444],[1088,510],[44,418],[140,440],[423,440],[313,343],[135,316],[602,355],[676,329],[786,336],[74,210],[25,169],[445,195],[464,195],[519,227],[555,167],[629,238],[396,145],[456,93],[162,69],[404,21],[547,30],[931,223],[909,17],[1049,76],[1137,43],[1165,217],[1220,195],[1247,167],[1206,125],[1156,125],[1352,162],[1302,93],[1198,10],[1269,10],[1508,30],[1604,54],[1681,37],[1489,223],[1412,284],[1357,340],[1426,342],[1486,342],[1385,401],[1659,390],[1645,369],[1714,314],[1728,282],[1857,266],[1887,217],[1835,162],[1865,136],[1541,473],[1181,633],[1233,586],[1266,553],[1288,510],[1321,629],[1412,640],[1563,688],[1560,622],[1615,596],[1742,672],[1769,661],[1912,590],[2063,629],[2003,525],[2096,510],[2401,510],[2360,633],[2634,477],[2607,559],[2442,774],[2456,722],[2557,774],[2360,807],[2538,857],[2593,846],[2634,687],[2151,776],[1857,776],[1928,792],[1989,785],[1755,798],[1665,737],[1659,868],[1302,792],[1269,781],[1261,863],[1275,944],[1343,939],[1316,911],[1228,1009],[1439,944],[1467,905],[1673,928],[1390,1074],[1467,1117],[1475,1095],[1637,1171],[1681,1128],[1802,1171],[2003,1150],[2003,1095],[2285,1139],[2340,1100],[2538,1117],[2585,1100],[2244,1048],[2277,1052],[2112,1026],[2058,965],[2332,970],[2373,976],[2420,987],[2305,336],[2305,275],[2486,336],[2439,238],[2607,180],[2154,86],[2003,54],[1912,23],[2250,154],[2291,97],[2373,23]];
const redLowerRight=[[2879,1204],[2865,1128],[2874,1095],[2887,1063],[2646,1128],[2659,939],[3209,1178],[3250,1100],[3313,1128],[3351,1106],[3470,1139],[3552,1113],[3681,1106],[3841,1139],[4005,1117],[4074,1100],[3896,1059],[3516,1020],[4623,1165],[4871,1117],[4912,1139],[4898,1085],[4978,1139],[4522,1059],[5242,1187],[5077,1074],[4192,1004],[4335,998],[4417,970],[4192,928],[4467,922],[3332,1000],[3387,987],[3456,965],[3415,944],[3475,922],[5187,918],[4981,878],[2777,451],[2989,792],[2942,688],[2755,705],[2775,716],[2632,813],[2646,748],[3464,835],[3689,835],[3854,850],[3470,770],[3657,740],[3451,688],[3772,672],[3827,661],[3780,644],[3319,635],[3209,581],[3231,575],[3429,601],[3451,575],[3544,601],[3703,596],[4044,642],[4178,655],[4225,694],[4209,603],[4341,581],[4266,557],[4439,629],[4547,635],[4467,705],[4706,740],[4588,852],[4623,803],[4541,796],[4220,846],[4720,635],[4879,839],[4898,839],[4673,575],[4670,516],[5068,559],[5063,505],[5214,510],[5016,449],[4934,440],[3420,505],[3654,488],[3690,477],[3722,449],[3827,510],[3808,471],[3945,418],[3137,405],[4066,483],[4137,449],[4225,488],[4253,455],[4299,440],[4409,473],[4519,494],[4500,427],[4574,408],[3396,364],[3277,329],[3492,329],[3731,271],[3821,232],[4135,329],[4404,310],[4275,286],[4500,266],[4508,217],[4610,277],[4555,173],[4574,102],[2783,223],[3148,206],[3621,167],[2720,134],[2972,147],[3132,123],[2940,71],[2885,24],[3170,17],[3258,74],[3854,130],[3950,97],[3923,62],[3799,24],[4186,54],[4297,71],[4269,4],[4967,86],[5074,104],[5181,17],[5242,4]];
const blueLowerRight=[[2673,1178],[2989,1150],[3168,1193],[3374,1171],[3360,1128],[3406,1078],[3341,1041],[3291,1056],[3223,1035],[3162,1020],[3516,1063],[3552,1063],[3599,1020],[3684,998],[3703,1085],[3739,1048],[3766,1113],[3857,1176],[3945,1113],[4019,1102],[3937,1026],[4005,976],[4019,1187],[4074,1143],[4110,1150],[4069,1052],[4143,1059],[2843,1035],[2728,1026],[2709,998],[4280,1026],[4390,1091],[4486,1143],[4527,1122],[4588,1106],[4670,1132],[4761,1143],[4816,1041],[4857,1041],[4898,1026],[4961,1113],[5085,1193],[5126,1193],[5099,1085],[5090,1052],[5077,1013],[4692,987],[4692,970],[4753,963],[4357,959],[4288,933],[4308,954],[4670,889],[5041,909],[5077,846],[5123,792],[4500,835],[4500,770],[4843,705],[4871,651],[4953,622],[4610,683],[4665,672],[4670,629],[4788,581],[4294,672],[4275,635],[4184,759],[4124,748],[4335,759],[3819,755],[3841,727],[3953,748],[3983,824],[3593,813],[3657,857],[3387,798],[3401,744],[3261,766],[3286,701],[2981,850],[2959,748],[2676,813],[2670,737],[2651,688],[2632,622],[2783,586],[2632,557],[2865,516],[3071,557],[3058,499],[3236,499],[3338,590],[3500,499],[3690,505],[3717,510],[3901,581],[3997,622],[4080,520],[4192,520],[4294,473],[4225,423],[4184,390],[4148,401],[3846,395],[3558,408],[2758,384],[2651,473],[4621,466],[4739,414],[4827,427],[5090,395],[5090,553],[5090,505],[4077,336],[4088,293],[4423,336],[3247,369],[3236,297],[3379,342],[3437,314],[3346,275],[3483,266],[3566,275],[3780,325],[2934,284],[3168,210],[3195,173],[3379,195],[3429,206],[3626,221],[3744,227],[3786,206],[3758,141],[3703,112],[3868,206],[3896,141],[3964,180],[4178,206],[4159,134],[4816,282],[4802,304],[4843,319],[4678,228],[4610,195],[4569,184],[4687,154],[4860,141],[2857,119],[2962,43],[3396,130],[3401,97],[3511,86],[3525,54],[3250,50],[3725,50],[3849,82],[3917,76],[4019,47],[4143,76],[4335,86],[4382,43],[4486,71],[4486,4],[4541,21],[4596,32],[4835,65],[4843,43],[4983,47],[5085,26]];
const x=d3.scaleLinear().domain([0,6000000]).range([55.4,784]);
const y=d3.scaleLinear().domain([0,5000000]).range([774,10]);
const svg=d3.select("#c").append("svg").attr("width",800).attr("height",800);
const gx=svg.append("g").attr("transform","translate(0,774)").call(d3.axisBottom(x).tickValues(xTicks).tickFormat(d3.format("d")).tickSize(-764).tickPadding(5));
const gy=svg.append("g").attr("transform","translate(55.4,0)").call(d3.axisLeft(y).tickValues(yTicks).tickFormat(d3.format("d")).tickSize(-728.6).tickPadding(4));
[gx,gy].forEach(g=>{g.select(".domain").remove();g.selectAll("line").attr("stroke","#a0a0a0").attr("stroke-dasharray","3,3");});
gx.selectAll("text").attr("dy","0.6em");
const dots=(pts,color)=>svg.append("g").attr("fill",color).selectAll("circle").data(pts).join("circle").attr("cx",d=>x(d[0]*1000)).attr("cy",d=>y(d[1]*1000)).attr("r",5.2);
const reds=[].concat(redUpperLeft,redUpperRight,redMidUpperLeft,redMidUpperRight,redMidLowerLeft,redMidLowerRight,redLowerLeft,redLowerRight);
const blues=[].concat(blueUpperLeft,blueUpperRight,blueMidUpperLeft,blueMidUpperRight,blueMidLowerLeft,blueMidLowerRight,blueLowerLeft,blueLowerRight);
dots(reds,"#ff0000");
svg.append("g").selectAll("path").data(bandRuns).join("path").attr("fill","none").attr("stroke","#ff0000").attr("stroke-width",10).attr("stroke-linecap","round").attr("stroke-linejoin","round").attr("d",d3.line().x(d=>x(d[0]*1000)).y(d=>y(d[1]*1000)));
dots(blues,"#0080ff");
svg.append("text").attr("x",417).attr("y",796).attr("text-anchor","middle").text("REF");
svg.append("text").attr("transform","translate(9,392) rotate(-90)").attr("text-anchor","middle").text("S_marcences_FGI94_chr");
</script></body></html>
